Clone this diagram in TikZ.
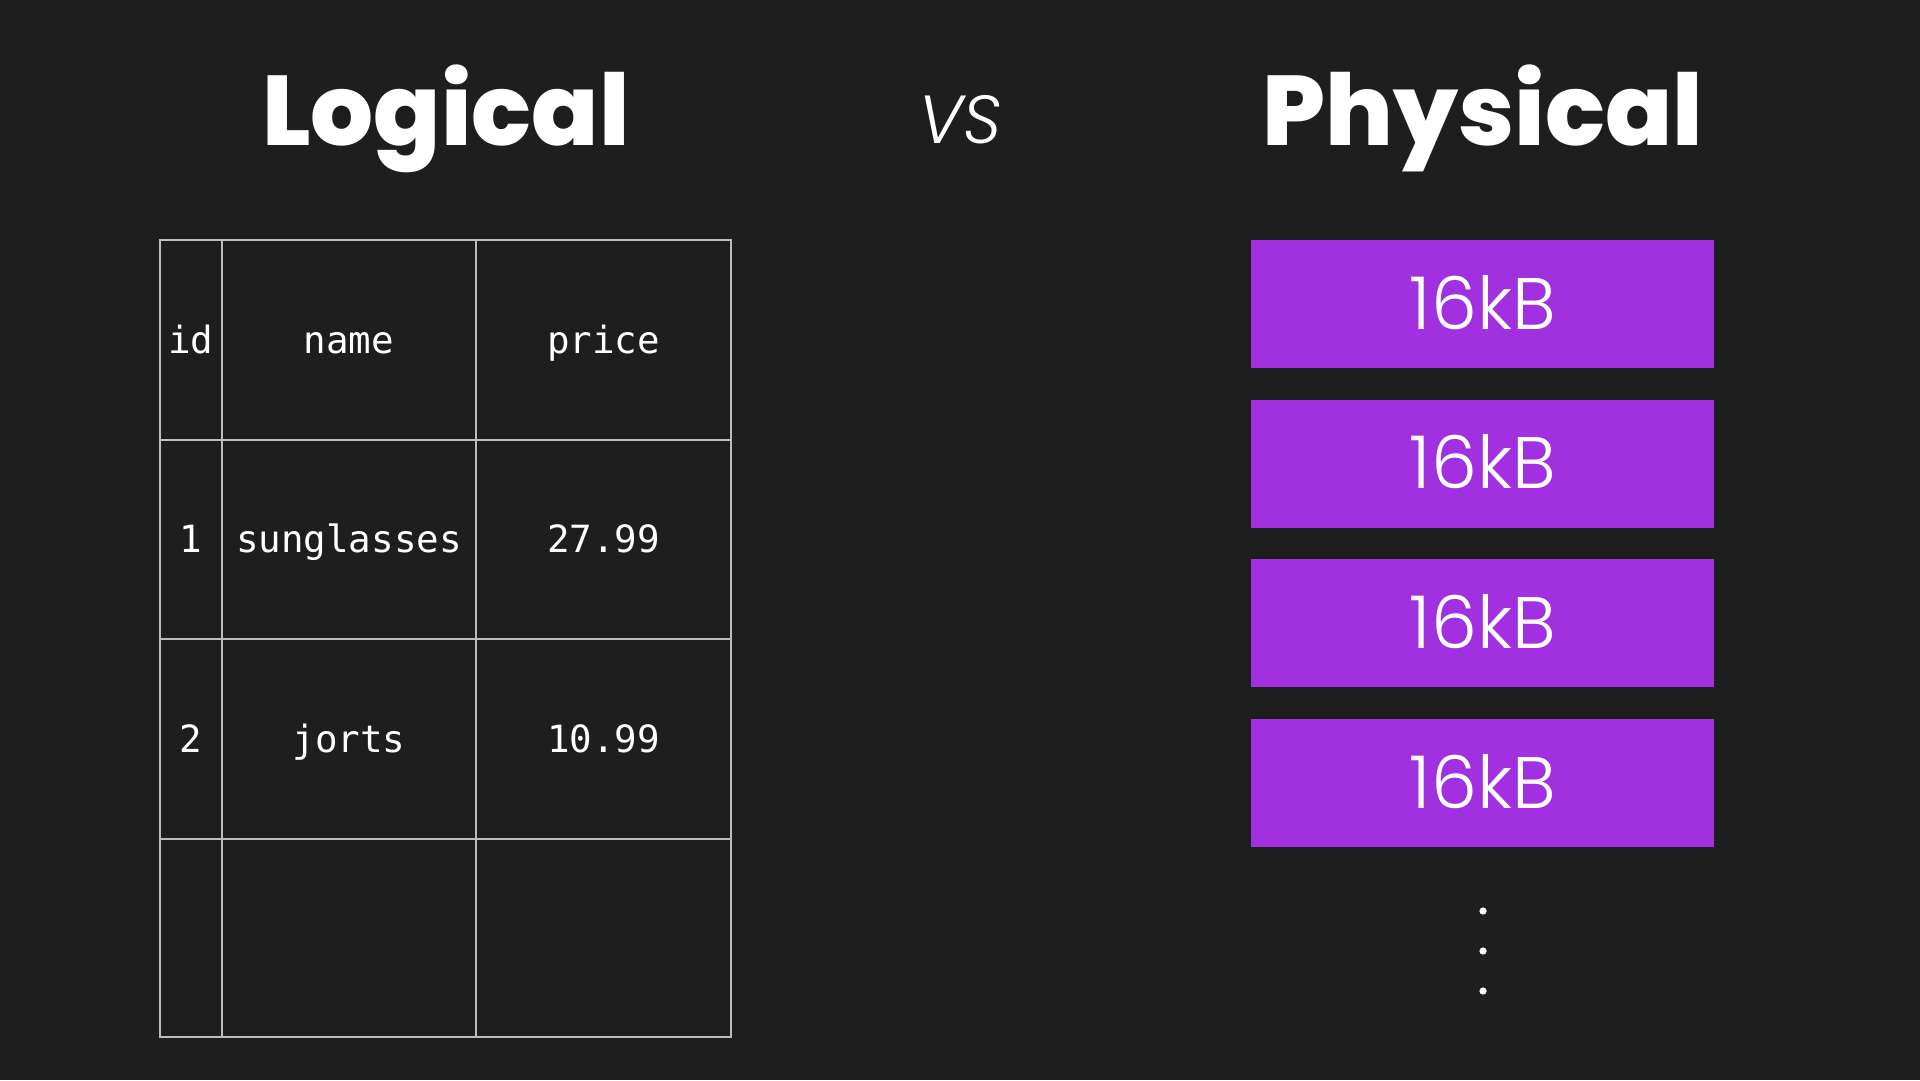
\documentclass[tikz,border=0pt]{standalone}
\usepackage{fontspec}
\setmonofont{DejaVu Sans Mono}
\newfontfamily\titlefont{Poppins}[UprightFont=* ExtraBold]
\newfontfamily\blockfont{Poppins}[UprightFont=* Light, ItalicFont=* Light Italic]
\definecolor{bg}{HTML}{1E1E1E}
\definecolor{grid}{HTML}{BDBDBD}
\definecolor{blockpurple}{HTML}{A030E0}
\tikzset{
  cell/.style={text=white, font=\ttfamily\fontsize{37.5}{40}\selectfont, anchor=base, inner sep=0pt},
  title/.style={text=white, font=\titlefont\fontsize{99}{110}\selectfont, anchor=base, inner sep=0pt},
  block/.style={fill=blockpurple, draw=none, minimum width=463pt, minimum height=128pt, inner sep=0pt, anchor=north west},
  blocklabel/.style={text=white, font=\blockfont\fontsize{73}{76}\selectfont, anchor=base, inner sep=0pt},
  gridline/.style={draw=grid, line width=1.4pt}
}
\begin{document}
\begin{tikzpicture}[x=1pt,y=-1pt]
\fill[bg] (0,0) rectangle (1920,1080);
\useasboundingbox (0,0) rectangle (1920,1080);
% titles
\node[title] (logical) at (446,145) {Logical};
\node[title] (physical) at (1483,145) {Physical};
\node[text=white, font=\blockfont\itshape\fontsize{68}{72}\selectfont, anchor=base, inner sep=0pt] (vs) at (960,143) {VS};
% table grid
\draw[gridline] (160,240) rectangle (731,1037);
\foreach \yy in {440,639,839} \draw[gridline] (160,\yy) -- (731,\yy);
\foreach \xx in {222,476} \draw[gridline] (\xx,240) -- (\xx,1037);
% table cells
\node[cell] (h1) at (191,353) {id};
\node[cell] (h2) at (349,353) {name};
\node[cell] (h3) at (603.5,353) {price};
\node[cell] (r11) at (191,552) {1};
\node[cell] (r12) at (349,552) {sunglasses};
\node[cell] (r13) at (603.5,552) {27.99};
\node[cell] (r21) at (191,752) {2};
\node[cell] (r22) at (349,752) {jorts};
\node[cell] (r23) at (603.5,752) {10.99};
% blocks
\foreach \i/\yy in {1/240,2/399.6,3/559.2,4/718.8} {
  \node[block] (b\i) at (1251,\yy) {};
  \node[blocklabel] (l\i) at ([yshift=-25pt]b\i.center) {16kB};
}
% dots
\foreach \i/\yy in {1/911,2/951,3/991} \fill[white] (1483,\yy) circle (3.6pt) coordinate (d\i);
\end{tikzpicture}
\end{document}
